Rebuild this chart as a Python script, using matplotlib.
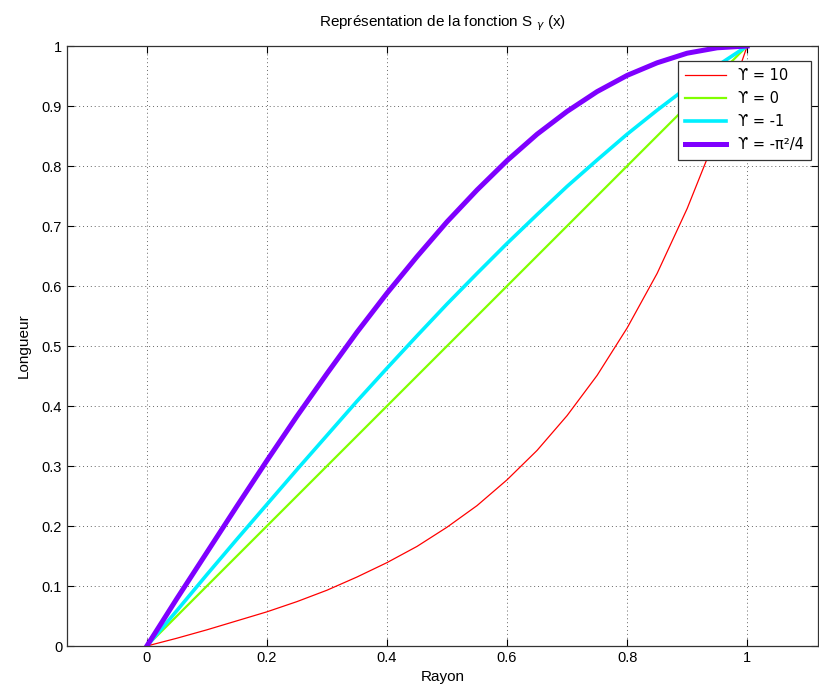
import matplotlib.pyplot as plt

# rayon values and curve values S_gamma(x)
rayon = [0.00, 0.05, 0.10, 0.15, 0.20, 0.25, 0.30, 0.35, 0.40, 0.45, 0.50,
         0.55, 0.60, 0.65, 0.70, 0.75, 0.80, 0.85, 0.90, 0.95, 1.00]
s_g10 = [0.000, 0.013, 0.027, 0.042, 0.057, 0.074, 0.093, 0.115, 0.139, 0.166, 0.198,
         0.234, 0.277, 0.326, 0.384, 0.451, 0.530, 0.621, 0.729, 0.854, 1.000]
s_g0 = [0.00, 0.05, 0.10, 0.15, 0.20, 0.25, 0.30, 0.35, 0.40, 0.45, 0.50,
        0.55, 0.60, 0.65, 0.70, 0.75, 0.80, 0.85, 0.90, 0.95, 1.00]
s_gm1 = [0.000, 0.059, 0.119, 0.178, 0.236, 0.294, 0.351, 0.408, 0.463, 0.517, 0.570,
         0.621, 0.671, 0.719, 0.766, 0.810, 0.853, 0.893, 0.931, 0.967, 1.000]
s_gpi = [0.000, 0.079, 0.156, 0.233, 0.309, 0.383, 0.454, 0.523, 0.588, 0.649, 0.707,
         0.760, 0.809, 0.853, 0.891, 0.924, 0.951, 0.972, 0.988, 0.997, 1.000]

labels = ["ϒ = 10", "ϒ = 0", "ϒ = -1", "ϒ = -π²/4"]
colors = ["#ff0000", "#80ff00", "#00f0ff", "#7f00ff"]
widths = [0.9, 1.6, 2.6, 3.6]
series = [s_g10, s_g0, s_gm1, s_gpi]

plt.rcParams['font.family'] = ['Liberation Sans', 'DejaVu Sans']

fig = plt.figure(figsize=(8.19, 6.96), dpi=100)
ax = fig.add_axes([0.0818, 0.0718, 0.917, 0.8621])

for ys, lab, c, w in zip(series, labels, colors, widths):
    ax.plot(rayon, ys, color=c, lw=w, label=lab, solid_joinstyle='round')

ax.set_xlim(-0.133, 1.118)
ax.set_ylim(0, 1)
ax.set_xticks([0, 0.2, 0.4, 0.6, 0.8, 1])
ax.set_xticklabels(["0", "0.2", "0.4", "0.6", "0.8", "1"])
ax.set_yticks([i / 10 for i in range(11)])
ax.set_yticklabels(["0"] + ["0.%d" % i for i in range(1, 10)] + ["1"])
ax.tick_params(direction='in', length=5, top=True, right=True, labelsize=10.5, width=0.8)
ax.grid(True, linestyle=(0, (1, 3)), color='#666666', lw=0.7)
for sp in ax.spines.values():
    sp.set_linewidth(0.9)
    sp.set_color('#333333')

ax.set_xlabel("Rayon", fontsize=11, labelpad=4)
ax.set_ylabel("Longueur", fontsize=11, labelpad=8)
ax.set_title(r"Représentation de la fonction S $_{\gamma}$ (x)", fontsize=11, pad=14)

leg = ax.legend(loc='upper right', bbox_to_anchor=(1.0, 0.987),
                prop={'family': 'DejaVu Sans', 'size': 10.5},
                fancybox=False, framealpha=1, edgecolor='#333333',
                handlelength=2.8, borderpad=0.5, labelspacing=0.55)
leg.get_frame().set_linewidth(0.9)

fig.savefig("out.png", dpi=100)
